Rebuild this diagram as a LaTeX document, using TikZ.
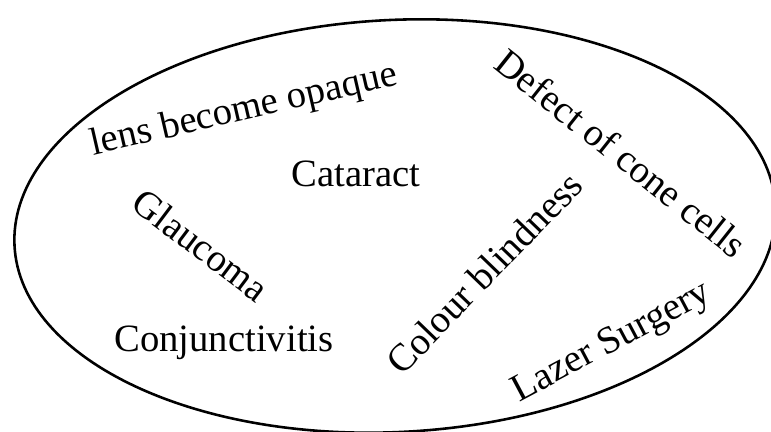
\documentclass[tikz,border=0pt]{standalone}
\usepackage{fontspec}
\setmainfont{Liberation Serif}
\begin{document}
\begin{tikzpicture}[x=0.03cm,y=-0.03cm,
      lbl/.style={font=\fontsize{33}{40}\selectfont,inner sep=0pt}]
  \useasboundingbox (0,0) rectangle (771,432);
  \coordinate (eye) at (395,226);
  \draw[line width=2.2pt,rotate around={3:(eye)}] (eye) ellipse [x radius=381,y radius=206];
  \node[lbl,anchor=base,rotate=13] (lens) at (246,120) {lens become opaque};
  \node[lbl,anchor=base] (cataract) at (356,187) {Cataract};
  \node[lbl,rotate=-37] (glaucoma) at (201,245) {Glaucoma};
  \node[lbl,anchor=base] (conj) at (224,352) {Conjunctivitis};
  \node[lbl,rotate=46] (colour) at (484,273) {Colour blindness};
  \node[lbl,rotate=-38.5] (defect) at (621,153) {Defect of cone cells};
  \node[lbl,rotate=28] (lazer) at (612,343) {Lazer Surgery};
\end{tikzpicture}
\end{document}
